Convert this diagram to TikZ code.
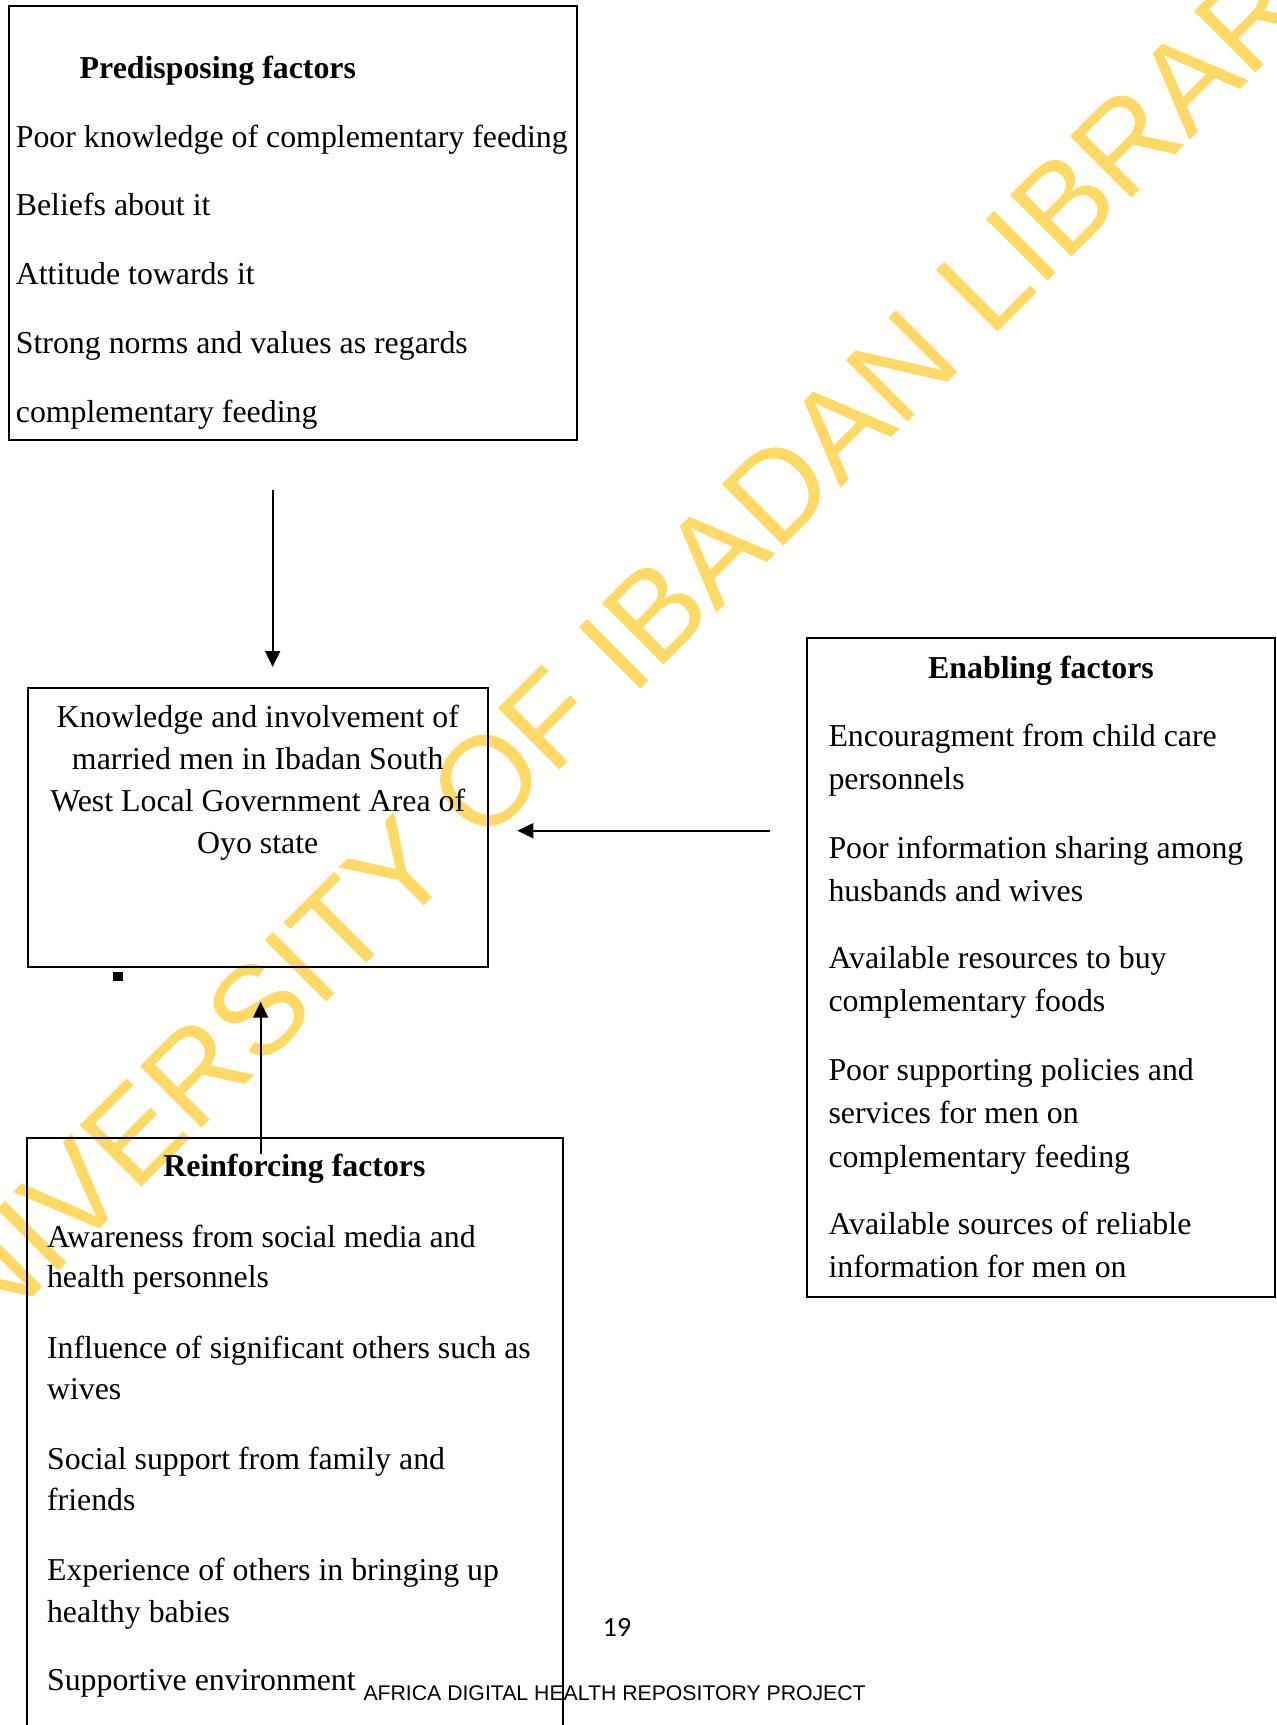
\documentclass[tikz,border=0pt]{standalone}
\usepackage{fontspec}
\setmainfont{Liberation Serif}
\newfontfamily\footfont{Liberation Sans}
\newfontfamily\pagefont{Carlito}
\usetikzlibrary{arrows.meta}

\definecolor{stampgold}{HTML}{FFD966}

\tikzset{
    box/.style={line width=0.75pt},
    item/.style={anchor=base west, inner sep=0pt, font=\fontsize{12}{14}\selectfont},
    head/.style={anchor=base, inner sep=0pt, font=\fontsize{12}{14}\selectfont\bfseries},
    flow/.style={line width=0.75pt, -{Triangle[length=6pt,width=5.6pt]}}
}

\begin{document}
\begin{tikzpicture}
    % Page frame
    \clip (0,0) rectangle (16.898,-22.844);

    % Watermark across the page
    \node[rotate=45, text=stampgold, inner sep=0pt, font=\footfont\fontsize{47.7}{50}\selectfont] (stamp) at (8.150,-8.642) {UNIVERSITY OF IBADAN LIBRARY};

    % Draw the predisposing factors box
    \draw[box] (0.113,-0.079) rectangle (7.637,-5.831);
    \node[item, font=\fontsize{12}{14}\selectfont\bfseries] (prehead) at (1.049,-1.033) {Predisposing factors};
    \node[item] (pre1) at (0.203,-1.947) {Poor knowledge of complementary feeding};
    \node[item] (pre2) at (0.203,-2.860) {Beliefs about it};
    \node[item] (pre3) at (0.203,-3.774) {Attitude towards it};
    \node[item] (pre4) at (0.203,-4.675) {Strong norms and values as regards};
    \node[item] (pre5) at (0.203,-5.589) {complementary feeding};

    % Draw the central box
    \draw[box] (0.367,-9.111) rectangle (6.459,-12.810);
    \node[head, font=\fontsize{12}{14}\selectfont] (mid1) at (3.413,-9.636) {Knowledge and involvement of};
    \node[head, font=\fontsize{12}{14}\selectfont] (mid2) at (3.413,-10.188) {married men in Ibadan South};
    \node[head, font=\fontsize{12}{14}\selectfont] (mid3) at (3.413,-10.753) {West Local Government Area of};
    \node[head, font=\fontsize{12}{14}\selectfont] (mid4) at (3.413,-11.296) {Oyo state};

    % Small mark under the central box
    \fill (1.500,-12.868) rectangle (1.633,-12.987);

    % Draw the enabling factors box
    \draw[box] (10.687,-8.449) rectangle (16.885,-17.176);
    \node[head] (enhead) at (13.786,-8.985) {Enabling factors};
    \node[item] (en1) at (10.965,-9.886) {Encouragment from child care};
    \node[item] (en2) at (10.965,-10.455) {personnels};
    \node[item] (en3) at (10.965,-11.369) {Poor information sharing among};
    \node[item] (en4) at (10.965,-11.932) {husbands and wives};
    \node[item] (en5) at (10.965,-12.832) {Available resources to buy};
    \node[item] (en6) at (10.965,-13.389) {complementary foods};
    \node[item] (en7) at (10.965,-14.309) {Poor supporting policies and};
    \node[item] (en8) at (10.965,-14.872) {services for men on};
    \node[item] (en9) at (10.965,-15.455) {complementary feeding};
    \node[item] (en10) at (10.965,-16.349) {Available sources of reliable};
    \node[item] (en11) at (10.965,-16.911) {information for men on};

    % Draw the reinforcing factors box (runs off the page)
    \draw[box] (0.364,-15.075) rectangle (7.456,-23.200);
    \node[head] (rehead) at (3.900,-15.580) {Reinforcing factors};
    \node[item] (re1) at (0.616,-16.514) {Awareness from social media and};
    \node[item] (re2) at (0.616,-17.050) {health personnels};
    \node[item] (re3) at (0.616,-17.984) {Influence of significant others such as};
    \node[item] (re4) at (0.616,-18.533) {wives};
    \node[item] (re5) at (0.616,-19.461) {Social support from family and};
    \node[item] (re6) at (0.616,-20.004) {friends};
    \node[item] (re7) at (0.616,-20.931) {Experience of others in bringing up};
    \node[item] (re8) at (0.616,-21.480) {healthy babies};
    \node[item] (re9) at (0.616,-22.388) {Supportive environment};

    % Arrow ends
    \coordinate (a1s) at (3.611,-6.489);
    \coordinate (a1e) at (3.611,-8.833);
    \coordinate (a2s) at (10.197,-11.001);
    \coordinate (a2e) at (6.851,-11.001);
    \coordinate (a3s) at (3.452,-15.282);
    \coordinate (a3e) at (3.452,-13.266);

    % Draw the arrows into the central box
    \draw[flow] (a1s) -- (a1e); % predisposing
    \draw[flow] (a2s) -- (a2e); % enabling
    \draw[flow] (a3s) -- (a3e); % reinforcing

    % Page number and footer
    \node[anchor=base, inner sep=0pt, font=\pagefont\fontsize{10.5}{12}\selectfont] (pageno) at (8.171,-21.673) {19};
    \node[anchor=base west, inner sep=0pt, font=\footfont\fontsize{8}{10}\selectfont] (footer) at (4.807,-22.513) {AFRICA DIGITAL HEALTH REPOSITORY PROJECT};

\end{tikzpicture}
\end{document}
